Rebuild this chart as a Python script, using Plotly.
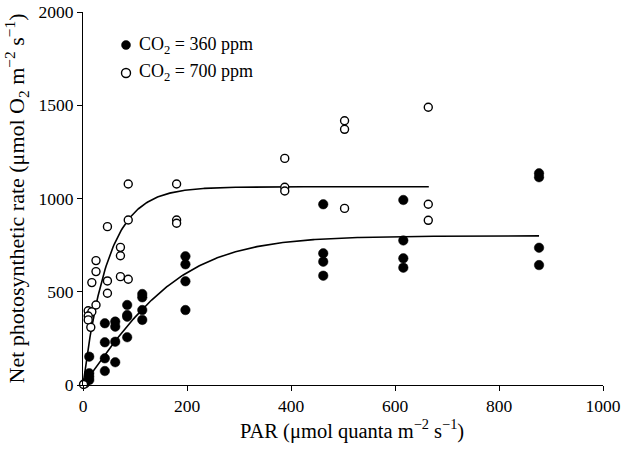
import numpy as np
import plotly.graph_objects as go

# CO2 = 360 ppm (filled circles)
par_360 = [4, 12, 12, 12, 12, 42, 42, 42, 42, 62, 62, 62, 62, 85, 85, 85, 85,
           114, 114, 114, 114, 197, 197, 197, 197, 462, 462, 462, 462,
           616, 616, 616, 616, 877, 877, 877, 877]
rate_360 = [9, 27, 45, 63, 152, 75, 143, 229, 331, 122, 232, 313, 340, 256, 366, 375, 429,
            349, 402, 470, 488, 402, 556, 647, 690, 586, 661, 706, 969,
            629, 679, 775, 992, 643, 736, 1114, 1135]

# CO2 = 700 ppm (open circles)
par_700 = [1, 10, 17, 10, 10, 15, 25, 17, 25, 25, 47, 47, 47, 72, 72, 72, 87, 87, 87,
           180, 180, 180, 388, 388, 388, 503, 503, 503, 664, 664, 664]
rate_700 = [3, 398, 393, 370, 349, 309, 429, 549, 608, 667, 558, 492, 849, 738, 693, 581, 567, 885, 1078,
            1078, 885, 867, 1215, 1060, 1040, 1417, 1371, 947, 1489, 969, 883]

# fitted light-response curves (parameters)
pmax_360, alpha_360, xmax_360 = 800, 0.0049, 877
pmax_700, alpha_700, xmax_700 = 1063, 0.0206, 665

legend_labels = ["CO<sub>2</sub> = 360 ppm", "CO<sub>2</sub> = 700 ppm"]
x_ticks = [0, 200, 400, 600, 800, 1000]
y_ticks = [0, 500, 1000, 1500, 2000]
x_title = "PAR (μmol quanta m<sup>−2</sup> s<sup>−1</sup>)"
y_title = "Net photosynthetic rate (μmol O<sub>2</sub> m<sup>−2</sup> s<sup>−1</sup>)"

x360 = np.linspace(0, xmax_360, 300)
y360 = pmax_360 * np.tanh(alpha_360 * x360)
x700 = np.linspace(0, xmax_700, 300)
y700 = pmax_700 * (1 - np.exp(-alpha_700 * x700))

FONT = "Liberation Serif, Times New Roman, serif"

fig = go.Figure()
fig.add_trace(go.Scatter(x=x360, y=y360, mode="lines", line=dict(color="black", width=1.6),
                         showlegend=False, hoverinfo="skip"))
fig.add_trace(go.Scatter(x=x700, y=y700, mode="lines", line=dict(color="black", width=1.6),
                         showlegend=False, hoverinfo="skip"))
fig.add_trace(go.Scatter(x=par_360, y=rate_360, mode="markers", name=legend_labels[0],
                         showlegend=False, cliponaxis=False,
                         marker=dict(symbol="circle", size=9.5, color="black",
                                     line=dict(color="black", width=0.5))))
fig.add_trace(go.Scatter(x=par_700, y=rate_700, mode="markers", name=legend_labels[1],
                         showlegend=False, cliponaxis=False,
                         marker=dict(symbol="circle", size=8, color="white",
                                     line=dict(color="black", width=1.4))))

# manual legend (marker shapes + text), placed in paper coordinates
leg_x, leg_text_x = 0.0827, 0.1038
leg_ys = [0.9115, 0.8365]
fills = ["black", "white"]
for lab, ly, fc in zip(legend_labels, leg_ys, fills):
    fig.add_shape(type="circle", xref="paper", yref="paper", xsizemode="pixel", ysizemode="pixel",
                  xanchor=leg_x, yanchor=ly, x0=-4.5, x1=4.5, y0=-4.5, y1=4.5,
                  fillcolor=fc, line=dict(color="black", width=1.4 if fc == "white" else 0.5))
    fig.add_annotation(x=leg_text_x, y=ly, xref="paper", yref="paper", text=lab,
                       showarrow=False, xanchor="left", yanchor="middle",
                       font=dict(family=FONT, size=18, color="black"))

# x-axis title as an annotation (slightly right of the plot centre, as in the reference)
fig.add_annotation(x=0.517, y=-0.12, xref="paper", yref="paper", text=x_title,
                   showarrow=False, xanchor="center", yanchor="middle",
                   font=dict(family=FONT, size=20.5, color="black"))

fig.update_layout(
    width=622, height=453,
    margin=dict(l=83, r=19, t=12, b=68),
    paper_bgcolor="white", plot_bgcolor="white",
    font=dict(family=FONT, size=18, color="black"),
    showlegend=False,
    xaxis=dict(range=[0, 1000], tickvals=x_ticks, automargin=False,
               showline=True, linecolor="black", linewidth=1.2, ticks="outside",
               ticklen=5, tickcolor="black", showgrid=False, zeroline=False,
               tickfont=dict(size=17.5), ticklabeloverflow="allow"),
    yaxis=dict(range=[0, 2000], tickvals=y_ticks, automargin=False,
               showline=True, linecolor="black", linewidth=1.2, ticks="outside",
               ticklen=5, tickcolor="black", showgrid=False, zeroline=False,
               tickfont=dict(size=17.5), ticklabeloverflow="allow",
               title=dict(text=y_title, font=dict(size=22), standoff=7)),
)

# remove the browser's default 8 px body margin so the figure sits at the window's corner
fig.write_html("out.html", config={"displayModeBar": False},
               post_script="document.body.style.margin='0';")
